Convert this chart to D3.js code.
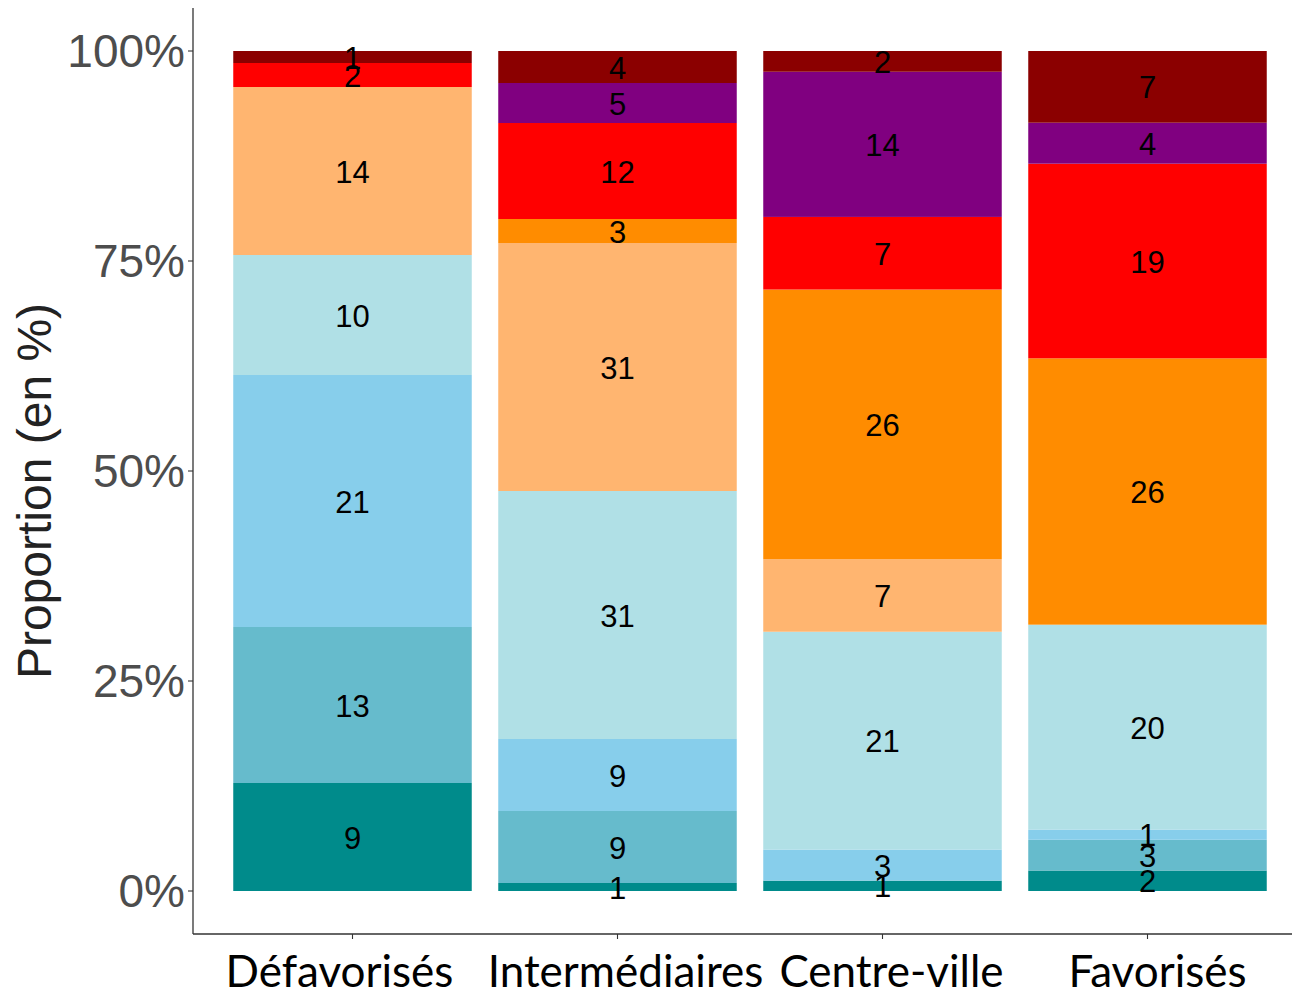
<!DOCTYPE html>
<html><head><meta charset="utf-8">
<script src="https://cdn.jsdelivr.net/npm/d3@7"></script>
<style>body{margin:0;background:#fff}</style>
</head><body>
<svg id="c" width="1293" height="995"></svg>
<script>
const categories = ["Défavorisés", "Intermédiaires", "Centre-ville", "Favorisés"];
const groups = ["g1","g2","g3","g4","g5","g6","g7","g8","g9"]; // bottom to top
const colors = ["#008B8B","#66BBCC","#87CEEB","#B0E0E6","#FFB570","#FF8C00","#FF0000","#800080","#8B0000"];
const defavorises   = [9, 13, 21, 10, 14, 0, 2, 0, 1];
const intermediaires= [1, 9, 9, 31, 31, 3, 12, 5, 4];
const centreVille   = [1, 0, 3, 21, 7, 26, 7, 14, 2];
const favorises     = [2, 3, 1, 20, 0, 26, 19, 4, 7];
const yTicks = [0, 0.25, 0.5, 0.75, 1];
const yTickLabels = ["0%", "25%", "50%", "75%", "100%"];
const yTitle = "Proportion (en %)";

const counts = [defavorises, intermediaires, centreVille, favorises];
const svg = d3.select("#c");
const x = d3.scaleBand().domain(categories).range([220, 1280]).paddingInner(0.1).paddingOuter(0.05);
const y = d3.scaleLinear().domain([0, 1]).range([891, 51]);

const rows = [];
categories.forEach((cat, i) => {
  const vals = counts[i];
  const tot = d3.sum(vals);
  let acc = 0;
  vals.forEach((v, j) => {
    rows.push({cat, j, v, y0: acc / tot, y1: (acc + v) / tot});
    acc += v;
  });
});

svg.append("g").selectAll("rect").data(rows.filter(d => d.v > 0)).join("rect")
  .attr("x", d => x(d.cat)).attr("width", x.bandwidth())
  .attr("y", d => y(d.y1)).attr("height", d => y(d.y0) - y(d.y1))
  .attr("fill", d => colors[d.j]);

svg.append("g").selectAll("text").data(rows.filter(d => d.v > 0)).join("text")
  .attr("x", d => x(d.cat) + x.bandwidth() / 2)
  .attr("y", d => y((d.y0 + d.y1) / 2) + 1)
  .attr("text-anchor", "middle").attr("dominant-baseline", "central")
  .attr("font-family", "Liberation Sans, Arial, sans-serif").attr("font-size", 31)
  .attr("fill", "#000").text(d => d.v);

// axes
const axisColor = "#333";
svg.append("line").attr("x1", 193).attr("x2", 193).attr("y1", 8).attr("y2", 934)
  .attr("stroke", axisColor).attr("stroke-width", 1.3);
svg.append("line").attr("x1", 193).attr("x2", 1292).attr("y1", 934).attr("y2", 934)
  .attr("stroke", axisColor).attr("stroke-width", 1.3);

const yt = svg.append("g");
yTicks.forEach((t, i) => {
  yt.append("line").attr("x1", 188).attr("x2", 193).attr("y1", y(t)).attr("y2", y(t)).attr("stroke", axisColor).attr("stroke-width", 1.1);
  yt.append("text").attr("x", 185).attr("y", y(t)).attr("text-anchor", "end").attr("dominant-baseline", "central")
    .attr("font-family", "Liberation Sans, Arial, sans-serif").attr("font-size", 46).attr("fill", "#4D4D4D")
    .text(yTickLabels[i]);
});

const labelShift = [-13, 8, 9, 10];
const xt = svg.append("g");
categories.forEach((c, i) => {
  const cx = x(c) + x.bandwidth() / 2;
  xt.append("line").attr("x1", cx).attr("x2", cx).attr("y1", 934).attr("y2", 939).attr("stroke", axisColor).attr("stroke-width", 1.1);
  xt.append("text").attr("x", cx + labelShift[i]).attr("y", 987).attr("text-anchor", "middle")
    .attr("font-family", "Lato, sans-serif").attr("font-size", 44).attr("fill", "#000").text(c);
});

svg.append("text").attr("transform", `translate(51, 491) rotate(-90)`)
  .attr("text-anchor", "middle").attr("font-family", "Liberation Sans, Arial, sans-serif")
  .attr("font-size", 48).attr("fill", "#222").text(yTitle);
</script>
</body></html>
